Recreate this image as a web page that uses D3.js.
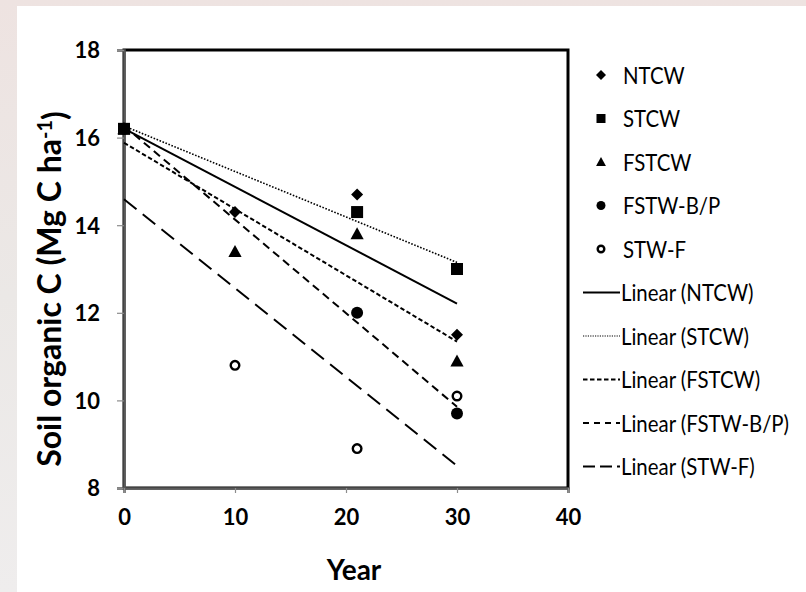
<!DOCTYPE html>
<html>
<head>
<meta charset="utf-8">
<script src="https://cdn.jsdelivr.net/npm/d3@7"></script>
<style>
  body { margin: 0; }
  svg { display: block; }
  text { font-family: Lato, "Open Sans", sans-serif; }
</style>
</head>
<body>
<div id="chart"></div>
<script>
// values
const seriesNames = ["NTCW", "STCW", "FSTCW", "FSTW-B/P", "STW-F"];
const ntcwYears = [0, 10, 21, 30];
const ntcwSoc = [16.2, 14.3, 14.7, 11.5];
const stcwYears = [0, 21, 30];
const stcwSoc = [16.2, 14.3, 13.0];
const fstcwYears = [0, 10, 21, 30];
const fstcwSoc = [16.2, 13.4, 13.8, 10.9];
const fstwbpYears = [0, 21, 30];
const fstwbpSoc = [16.2, 12.0, 9.7];
const stwfYears = [0, 10, 21, 30];
const stwfSoc = [16.2, 10.8, 8.9, 10.1];
const xTicks = [0, 10, 20, 30, 40];
const yTicks = [8, 10, 12, 14, 16, 18];

const width = 806, height = 592;
const margin = { left: 124, right: 238, top: 50, bottom: 104 };

const svg = d3.select("#chart").append("svg")
  .attr("width", width)
  .attr("height", height);

// faded photo background behind the white panel
const defs = svg.append("defs");
const bg = defs.append("linearGradient").attr("id", "bg")
  .attr("x1", "0%").attr("y1", "0%").attr("x2", "0%").attr("y2", "100%");
bg.append("stop").attr("offset", "0%").attr("stop-color", "#eee3e1");
bg.append("stop").attr("offset", "50%").attr("stop-color", "#ebe8e6");
bg.append("stop").attr("offset", "100%").attr("stop-color", "#efeded");
svg.append("rect").attr("width", width).attr("height", height).attr("fill", "url(#bg)");
svg.append("rect").attr("x", 17).attr("y", 6)
  .attr("width", width - 17).attr("height", height - 6).attr("fill", "#fff");

const x = d3.scaleLinear().domain([0, 40]).range([margin.left, width - margin.right]);
const y = d3.scaleLinear().domain([8, 18]).range([height - margin.bottom, margin.top]);

// plot frame
svg.append("rect")
  .attr("x", x(0)).attr("y", y(18))
  .attr("width", x(40) - x(0)).attr("height", y(8) - y(18))
  .attr("fill", "none").attr("stroke", "#000").attr("stroke-width", 3);

const yAxis = svg.append("g")
  .attr("transform", `translate(${x(0)},0)`)
  .call(d3.axisLeft(y).tickValues(yTicks).tickSize(7).tickPadding(17));
const xAxis = svg.append("g")
  .attr("transform", `translate(0,${y(8)})`)
  .call(d3.axisBottom(x).tickValues(xTicks).tickSize(5).tickPadding(15));

[yAxis, xAxis].forEach(a => {
  a.select(".domain").attr("stroke", "#595959").attr("stroke-width", 2.5);
  a.selectAll(".tick line").attr("stroke", "#8c8c8c").attr("stroke-width", 1.2);
  a.selectAll(".tick text")
    .attr("fill", "#000")
    .style("font-size", "22px")
    .style("font-weight", "bold");
});
yAxis.selectAll(".tick text").attr("dy", "0.36em");
xAxis.selectAll(".tick text").attr("dy", "0.75em");

// axis titles
svg.append("text")
  .attr("x", 354).attr("y", 580)
  .attr("text-anchor", "middle")
  .style("font-size", "28px").style("font-weight", "bold")
  .text("Year");

const yTitle = svg.append("text")
  .attr("transform", "translate(61,289) rotate(-90)")
  .attr("text-anchor", "middle")
  .style("font-size", "32px").style("font-weight", "bold");
yTitle.append("tspan").text("Soil organic C (Mg C ha");
yTitle.append("tspan").attr("dy", "-0.45em").style("font-size", "20px").text("-1");
yTitle.append("tspan").attr("dy", "0.45em").text(")");

// series table
const series = [
  { name: seriesNames[0], years: ntcwYears, soc: ntcwSoc, shape: "diamond", dash: null },
  { name: seriesNames[1], years: stcwYears, soc: stcwSoc, shape: "square", dash: "1.6,1.6" },
  { name: seriesNames[2], years: fstcwYears, soc: fstcwSoc, shape: "triangle", dash: "4.5,2.5" },
  { name: seriesNames[3], years: fstwbpYears, soc: fstwbpSoc, shape: "circle", dash: "8,5" },
  { name: seriesNames[4], years: stwfYears, soc: stwfSoc, shape: "open", dash: "16,8" }
];

// least squares trend, same as the spreadsheet "Linear" trendline
function trend(s) {
  const mx = d3.mean(s.years), my = d3.mean(s.soc);
  const sxy = d3.sum(s.years, (v, i) => (v - mx) * (s.soc[i] - my));
  const sxx = d3.sum(s.years, v => (v - mx) * (v - mx));
  const b = sxy / sxx, a = my - b * mx;
  const x0 = d3.min(s.years), x1 = d3.max(s.years);
  return [[x0, a + b * x0], [x1, a + b * x1]];
}

const line = d3.line().x(d => x(d[0])).y(d => y(d[1]));

svg.append("g").selectAll("path")
  .data(series)
  .join("path")
  .attr("d", d => line(trend(d)))
  .attr("fill", "none")
  .attr("stroke", "#000")
  .attr("stroke-width", d => d.dash === "1.6,1.6" ? 1.6 : 2)
  .attr("stroke-dasharray", d => d.dash);

function drawMarker(g, shape, size) {
  const h = size / 2;
  if (shape === "diamond") {
    g.append("path").attr("d", `M0,${-h}L${h},0L0,${h}L${-h},0Z`).attr("fill", "#000");
  } else if (shape === "square") {
    g.append("rect").attr("x", -h).attr("y", -h)
      .attr("width", size).attr("height", size).attr("fill", "#000");
  } else if (shape === "triangle") {
    g.append("path").attr("d", `M0,${-size * 0.55}L${size * 0.55},${size * 0.45}L${-size * 0.55},${size * 0.45}Z`).attr("fill", "#000");
  } else if (shape === "circle") {
    g.append("circle").attr("r", h).attr("fill", "#000");
  } else {
    g.append("circle").attr("r", h - 1.2).attr("fill", "#fff")
      .attr("stroke", "#000").attr("stroke-width", 2.4);
  }
}

// points; squares drawn last so they sit on top at year 0
const drawOrder = [0, 2, 3, 4, 1];
const pts = svg.append("g");
drawOrder.forEach(i => {
  const s = series[i];
  s.years.forEach((yr, j) => {
    const g = pts.append("g").attr("transform", `translate(${x(yr)},${y(s.soc[j])})`);
    drawMarker(g, s.shape, s.shape === "open" ? 11 : 12);
  });
});

// legend
const rowY = i => 75 + 43.5 * i;
const legend = svg.append("g");
series.forEach((s, i) => {
  const g = legend.append("g").attr("transform", `translate(601,${rowY(i)})`);
  drawMarker(g, s.shape, s.shape === "diamond" ? 10 : 9);
  legend.append("text")
    .attr("transform", `translate(623,${rowY(i)}) scale(0.85,1)`)
    .attr("dy", "0.36em")
    .style("font-size", "24px")
    .text(s.name);
});
series.forEach((s, i) => {
  const yy = rowY(i + 5);
  legend.append("line")
    .attr("x1", 583).attr("x2", 620).attr("y1", yy).attr("y2", yy)
    .attr("stroke", "#000")
    .attr("stroke-width", s.dash === "1.6,1.6" ? 1.2 : 2)
    .attr("stroke-dasharray", s.dash === "1.6,1.6" ? "1.2,1.2" : s.dash === "16,8" ? "12,5" : s.dash === "8,5" ? "6,5" : s.dash);
  legend.append("text")
    .attr("transform", `translate(621,${yy}) scale(0.85,1)`)
    .attr("dy", "0.36em")
    .style("font-size", "24px")
    .text(`Linear (${s.name})`);
});
</script>
</body>
</html>
